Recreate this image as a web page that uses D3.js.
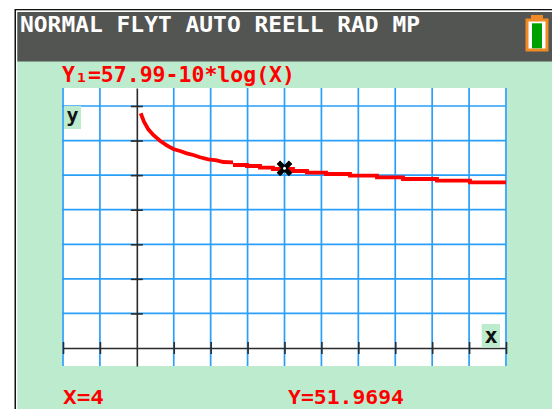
<!DOCTYPE html>
<html><head><meta charset="utf-8">
<script src="https://cdn.jsdelivr.net/npm/d3@7"></script>
<style>html,body{margin:0;padding:0;background:#fff;overflow:hidden}svg{display:block}text{font-family:"DejaVu Sans Mono",monospace;font-weight:bold}</style>
</head><body><svg id="c" width="552" height="409"></svg>
<script>
const statusText = "NORMAL FLYT AUTO REELL RAD MP";
const equationText = "Y₁=57.99-10*log(X)";
const traceXText = "X=4";
const traceYText = "Y=51.9694";
const xTicks = [-2,-1,1,2,3,4,5,6,7,8,9,10];
const yTicks = [10,20,30,40,50,60,70];
const curveX = [0.105,0.194,0.311,0.446,0.628,0.809,0.988,1.169,1.351,1.53,1.711,1.936,2.163,2.342,2.605];
const curveY = [67.88,65.45,63.25,61.61,59.96,58.63,57.56,56.98,56.31,55.82,55.16,54.58,54.29,53.8,53.71];
const stepX = [2.605,2.984,3.336,3.688,4.23,4.609,5.124,5.774,6.505,7.209,8.13,9.024,10];
const stepY = [52.93,52.64,52.15,51.77,51.2,50.73,50.33,49.84,49.37,48.88,48.39,47.93,47.93];
const traceX = [4];
const traceY = [51.97];

const svg = d3.select("#c");
const x = d3.scaleLinear().domain([-2,10]).range([63,506]);
const y = d3.scaleLinear().domain([-5.2,75.2]).range([366,88]);

svg.append("rect").attr("x",14.5).attr("y",9).attr("width",537.5).attr("height",400).attr("fill","#111");
svg.append("rect").attr("x",16).attr("y",10.3).attr("width",536).attr("height",399).attr("fill","#fff");
svg.append("rect").attr("x",17.3).attr("y",12).attr("width",535).attr("height",397).attr("fill","#bdebcd");
svg.append("rect").attr("x",17.3).attr("y",12).attr("width",535).attr("height",49.5).attr("fill","#535553");
svg.append("rect").attr("x",62).attr("y",88).attr("width",445).attr("height",278).attr("fill","#fff");

const grid = svg.append("g").attr("stroke","#2a9ffa").attr("stroke-width",1.7);
grid.selectAll("line.v").data(xTicks).join("line").attr("class","v")
  .attr("x1",d=>x(d)).attr("x2",d=>x(d)).attr("y1",88).attr("y2",366);
grid.selectAll("line.h").data(yTicks).join("line").attr("class","h")
  .attr("y1",d=>y(d)).attr("y2",d=>y(d)).attr("x1",62).attr("x2",506);

const axY = d3.axisLeft(y).tickValues(yTicks).tickSize(0).tickFormat("");
const gy = svg.append("g").attr("transform",`translate(${x(0)},0)`).call(axY);
gy.select(".domain").attr("stroke","#2b2b2b").attr("stroke-width",1.6);
gy.selectAll(".tick line").attr("x1",-6).attr("x2",6).attr("stroke","#2b2b2b").attr("stroke-width",1.6);
const axX = d3.axisBottom(x).tickValues(xTicks).tickSize(0).tickFormat("");
const gx = svg.append("g").attr("transform",`translate(0,${y(0)})`).call(axX);
gx.select(".domain").attr("stroke","#2b2b2b").attr("stroke-width",1.6);
gx.selectAll(".tick line").attr("y1",-6).attr("y2",6).attr("stroke","#2b2b2b").attr("stroke-width",1.6);

svg.append("rect").attr("x",64).attr("y",106).attr("width",17).attr("height",23).attr("fill","#bdebcd");
svg.append("rect").attr("x",481.7).attr("y",324).attr("width",18.3).attr("height",23.5).attr("fill","#bdebcd");
svg.append("text").attr("x",72.5).attr("y",122).attr("text-anchor","middle").attr("font-size",20).attr("fill","#111").text("y");
svg.append("text").attr("x",491).attr("y",343).attr("text-anchor","middle").attr("font-size",22).attr("fill","#111").text("x");

const line = d3.line().x((d,i)=>x(curveX[i])).y((d,i)=>y(curveY[i]));
svg.append("path").attr("d",line(curveX)).attr("fill","none").attr("stroke","#f00").attr("stroke-width",3.8);
const steps = d3.line().x((d,i)=>x(stepX[i])).y((d,i)=>y(stepY[i])).curve(d3.curveStepAfter);
svg.append("path").attr("d",steps(stepX)).attr("fill","none").attr("stroke","#f00").attr("stroke-width",3.8);

const marks = svg.selectAll("g.m").data(traceX).join("g").attr("class","m")
  .attr("transform",(d,i)=>`translate(${x(d)},${y(traceY[i])})`);
marks.append("path").attr("d",d3.symbol(d3.symbolTimes,100)).attr("stroke","#000").attr("stroke-width",5).attr("fill","none");
marks.append("circle").attr("r",1.5).attr("fill","#fff");

svg.append("text").attr("x",20).attr("y",32).attr("font-size",22).attr("fill","#fff").attr("textLength",400).attr("lengthAdjust","spacingAndGlyphs").text(statusText);
svg.append("text").attr("x",62).attr("y",82).attr("font-size",21).attr("fill","#f00").attr("textLength",233).attr("lengthAdjust","spacingAndGlyphs").text(equationText);
svg.append("text").attr("x",63).attr("y",404).attr("font-size",20).attr("fill","#f00").attr("textLength",41).attr("lengthAdjust","spacingAndGlyphs").text(traceXText);
svg.append("text").attr("x",288).attr("y",404).attr("font-size",20).attr("fill","#f00").attr("textLength",116).attr("lengthAdjust","spacingAndGlyphs").text(traceYText);

const bat = svg.append("g");
bat.append("rect").attr("x",531).attr("y",15).attr("width",12).attr("height",4).attr("fill","#f08a24");
bat.append("rect").attr("x",527).attr("y",20).attr("width",20).attr("height",30).attr("fill","#fff").attr("stroke","#f08a24").attr("stroke-width",3);
bat.append("rect").attr("x",532).attr("y",23.3).attr("width",10).attr("height",25).attr("fill","#00a000");
</script></body></html>
